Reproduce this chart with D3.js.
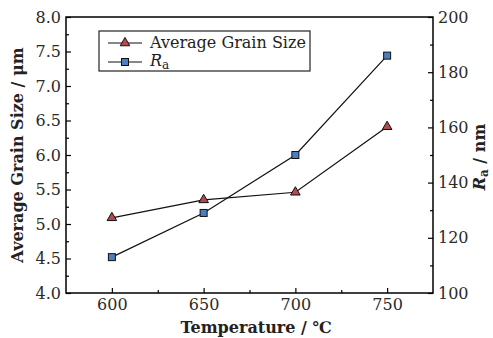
<!DOCTYPE html>
<html>
<head>
<meta charset="utf-8">
<script src="https://cdn.jsdelivr.net/npm/d3@7"></script>
<style>
  body { margin: 0; background: #fff; }
</style>
</head>
<body>
<div id="chart"></div>
<script>
const temps = [600, 650, 700, 750];
const grainSize = [5.09, 5.35, 5.46, 6.41];
const ra = [113, 129, 150, 186];
const xTicks = [600, 650, 700, 750];
const leftTicks = [4.0, 4.5, 5.0, 5.5, 6.0, 6.5, 7.0, 7.5, 8.0];
const rightTicks = [100, 120, 140, 160, 180, 200];

const FONT = 'DejaVu Serif';
const width = 493, height = 338;
const margin = {top: 17, right: 60, bottom: 45, left: 66};
const w = 433 - margin.left;
const h = 293 - margin.top;

const svg = d3.select('#chart').append('svg')
  .attr('width', width)
  .attr('height', height)
  .style('font-family', FONT);

const g = svg.append('g')
  .attr('transform', `translate(${margin.left},${margin.top})`);

const x = d3.scaleLinear().domain([575, 775]).range([0, w]);
const yL = d3.scaleLinear().domain([4, 8]).range([h, 0]);
const yR = d3.scaleLinear().domain([100, 200]).range([h, 0]);

// frame
g.append('rect')
  .attr('width', w).attr('height', h)
  .attr('fill', 'none').attr('stroke', '#000').attr('stroke-width', 1.5);

// bottom axis: major + minor ticks pointing inward
g.append('g').attr('transform', `translate(0,${h})`)
  .call(d3.axisBottom(x).tickValues(xTicks).tickSize(-5).tickPadding(6).tickFormat(d3.format('d')));
g.append('g').attr('transform', `translate(0,${h})`)
  .call(d3.axisBottom(x).tickValues([625, 675, 725]).tickSize(-3).tickFormat(''));

g.append('g')
  .call(d3.axisLeft(yL).tickValues(leftTicks).tickSize(-5).tickPadding(5).tickFormat(d3.format('.1f')));
g.append('g')
  .call(d3.axisLeft(yL).tickValues(d3.range(4.25, 8, 0.5)).tickSize(-3).tickFormat(''));

g.append('g').attr('transform', `translate(${w},0)`)
  .call(d3.axisRight(yR).tickValues(rightTicks).tickSize(-5).tickPadding(5));
g.append('g').attr('transform', `translate(${w},0)`)
  .call(d3.axisRight(yR).tickValues(d3.range(110, 200, 20)).tickSize(-3).tickFormat(''));

g.selectAll('.domain').remove();
g.selectAll('g').attr('font-family', null);
g.selectAll('.tick line').attr('stroke', '#000').attr('stroke-width', 1.2);
g.selectAll('.tick text').attr('font-size', 16).attr('fill', '#2a2a2a');

// lines
const lineG = d3.line().x((d, i) => x(temps[i])).y(d => yL(d));
const lineR = d3.line().x((d, i) => x(temps[i])).y(d => yR(d));

g.append('path').datum(grainSize).attr('d', lineG)
  .attr('fill', 'none').attr('stroke', '#111').attr('stroke-width', 1.2);
g.append('path').datum(ra).attr('d', lineR)
  .attr('fill', 'none').attr('stroke', '#111').attr('stroke-width', 1.2);

const tri = d3.symbol().type(d3.symbolTriangle).size(40);
g.selectAll('.tri').data(grainSize).enter().append('path')
  .attr('class', 'tri')
  .attr('d', tri)
  .attr('transform', (d, i) => `translate(${x(temps[i])},${yL(d)})`)
  .attr('fill', '#b5484d').attr('stroke', '#111').attr('stroke-width', 1);

g.selectAll('.sq').data(ra).enter().append('rect')
  .attr('class', 'sq')
  .attr('x', (d, i) => x(temps[i]) - 3.5)
  .attr('y', d => yR(d) - 3.5)
  .attr('width', 7).attr('height', 7)
  .attr('fill', '#4a7fc0').attr('stroke', '#111').attr('stroke-width', 1);

// legend
const lg = svg.append('g');
lg.append('rect').attr('x', 99).attr('y', 31).attr('width', 211).attr('height', 40)
  .attr('fill', '#fff').attr('stroke', '#222').attr('stroke-width', 1.2);
lg.append('line').attr('x1', 108).attr('x2', 142).attr('y1', 43).attr('y2', 43)
  .attr('stroke', '#111').attr('stroke-width', 1.2);
lg.append('path').attr('d', tri).attr('transform', 'translate(125,43)')
  .attr('fill', '#b5484d').attr('stroke', '#111');
lg.append('text').attr('x', 150).attr('y', 48).attr('font-size', 16).attr('fill', '#222')
  .text('Average Grain Size');
lg.append('line').attr('x1', 108).attr('x2', 142).attr('y1', 62).attr('y2', 62)
  .attr('stroke', '#111').attr('stroke-width', 1.2);
lg.append('rect').attr('x', 121.5).attr('y', 58.5).attr('width', 7).attr('height', 7)
  .attr('fill', '#4a7fc0').attr('stroke', '#111');
const raText = lg.append('text').attr('x', 150).attr('y', 66).attr('font-size', 16).attr('fill', '#222');
raText.append('tspan').attr('font-style', 'italic').text('R');
raText.append('tspan').attr('font-size', 12).attr('dy', 3).text('a');

// axis titles
svg.append('text')
  .attr('x', 256).attr('y', 333)
  .attr('text-anchor', 'middle').attr('font-size', 16).attr('font-weight', 'bold').attr('fill', '#222')
  .text('Temperature / ℃');

svg.append('text')
  .attr('transform', `translate(23,${margin.top + h / 2}) rotate(-90)`)
  .attr('text-anchor', 'middle').attr('font-size', 16).attr('font-weight', 'bold').attr('fill', '#222')
  .text('Average Grain Size / μm');

const rt = svg.append('text')
  .attr('transform', `translate(485,157) rotate(-90)`)
  .attr('text-anchor', 'middle').attr('font-size', 16).attr('font-weight', 'bold').attr('fill', '#222');
rt.append('tspan').attr('font-style', 'italic').text('R');
rt.append('tspan').attr('font-size', 12).attr('dy', 3).text('a');
rt.append('tspan').attr('dy', -3).text(' / nm');
</script>
</body>
</html>
